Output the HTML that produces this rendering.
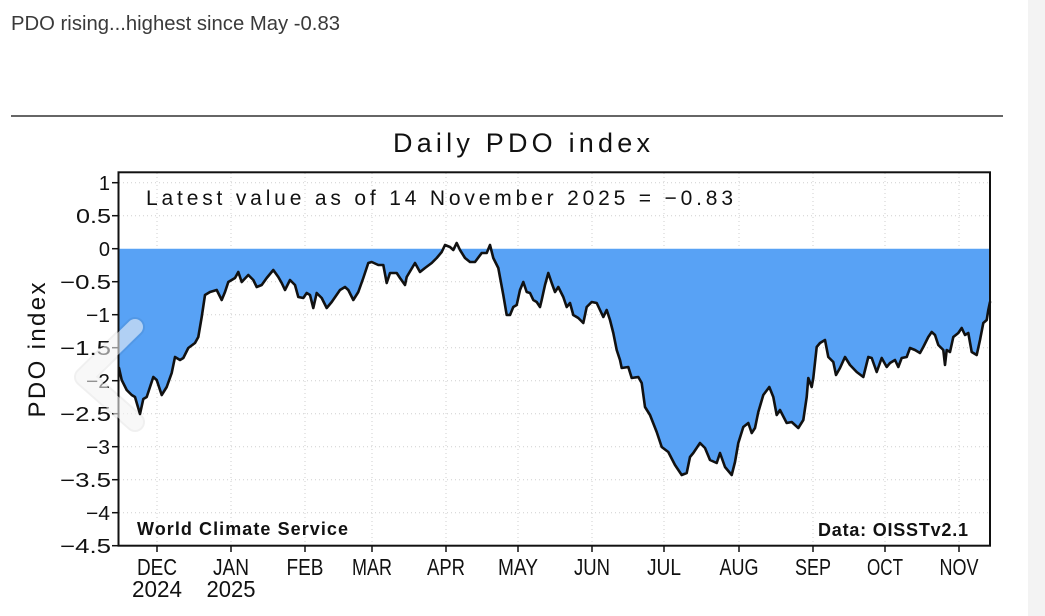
<!DOCTYPE html>
<html><head><meta charset="utf-8"><style>
html,body{margin:0;padding:0;background:#fff;}
svg{display:block;}
</style></head><body>
<svg width="1045" height="616" viewBox="0 0 1045 616" xmlns="http://www.w3.org/2000/svg" font-family="Liberation Sans, DejaVu Sans, sans-serif">
<rect x="0" y="0" width="1045" height="616" fill="#fff"/>
<rect x="1028" y="0" width="17" height="616" fill="#f3f3f3"/>
<text x="11" y="30" font-size="20" fill="#3a3a3a" textLength="329" lengthAdjust="spacingAndGlyphs">PDO rising...highest since May -0.83</text>
<line x1="11" y1="116" x2="1003" y2="116" stroke="#333" stroke-width="1.5"/>

<!-- grid -->
<g stroke="#cfcfcf" stroke-width="1" stroke-dasharray="1 3">
<line x1="119" y1="182.7" x2="990" y2="182.7"/>
<line x1="119" y1="215.7" x2="990" y2="215.7"/>
<line x1="119" y1="281.7" x2="990" y2="281.7"/>
<line x1="119" y1="314.7" x2="990" y2="314.7"/>
<line x1="119" y1="347.7" x2="990" y2="347.7"/>
<line x1="119" y1="380.7" x2="990" y2="380.7"/>
<line x1="119" y1="413.7" x2="990" y2="413.7"/>
<line x1="119" y1="446.7" x2="990" y2="446.7"/>
<line x1="119" y1="479.7" x2="990" y2="479.7"/>
<line x1="119" y1="512.7" x2="990" y2="512.7"/>
<line x1="157" y1="173" x2="157" y2="545"/>
<line x1="231" y1="173" x2="231" y2="545"/>
<line x1="305" y1="173" x2="305" y2="545"/>
<line x1="372" y1="173" x2="372" y2="545"/>
<line x1="446" y1="173" x2="446" y2="545"/>
<line x1="518" y1="173" x2="518" y2="545"/>
<line x1="592" y1="173" x2="592" y2="545"/>
<line x1="664" y1="173" x2="664" y2="545"/>
<line x1="739" y1="173" x2="739" y2="545"/>
<line x1="813" y1="173" x2="813" y2="545"/>
<line x1="885" y1="173" x2="885" y2="545"/>
<line x1="959" y1="173" x2="959" y2="545"/>
</g>

<!-- fill -->
<polygon fill="#58a2f5" points="119,248.7 119,368 121.7,380 126.7,390 131.7,395 135,397 140,414 143.3,399 146.7,397 153.3,377 156.7,380 161.7,395 166.7,387 171.7,373 175,357 180,360 183.3,358 188.3,348 195,343 198.3,337 201.7,317 205,295 210,292 216.7,290 221.7,300 225,292 228.3,282 235,278 238.3,272 241.7,282 248.3,275 253.3,280 256.7,287 261.7,285 266.7,278 273.3,270 278.3,277 281.7,283 285,290 290,280 295,285 298.3,297 303.3,298 306.7,293 310,295 313.3,308 316.7,293 321.7,298 326.7,308 331.7,302 340,290 345,287 348.3,290 353.3,300 358.3,292 363.3,278 368.3,263 371.7,262 378.3,265 383.3,265 386.7,283 390,273 396.7,273 400,278 405,285 406.7,277 415,263 420,272 425,268 431.7,263 436.7,258 441.7,252 445,248.7 450,248.7 453.3,250 456.7,248.7 460,250 465,258 470,262 475,262 481.7,253 486.7,253 490,248.7 493.3,258 498.3,268 503.3,295 506.7,315 510,315 513.3,307 516.7,305 520,290 523.3,282 526.7,292 530,293 533.3,300 536.7,302 540,307 541.7,300 545,285 548.3,273 551.7,283 555,292 558.3,287 563.3,297 566.7,307 570,303 573.3,315 578.3,318 583.3,323 586.7,307 591.7,302 596.7,303 600,310 603.3,317 606.7,310 610,320 613.3,333 616.7,350 620,360 621.7,368 628.3,367 631.7,378 638.3,377 641.7,383 645,407 650,415 656.7,432 661.7,447 668.3,452 675,465 681.7,475 686.7,473 690,457 693.3,453 700,443 705,448 710,460 716.7,463 720,453 725,467 731.7,475 735,462 738.3,443 743.3,427 748.3,423 751.7,433 755,428 758.3,412 763.3,395 769.3,387 773.3,397 776.7,415 780,410 786.7,423 791.7,422 798.3,428 803.3,420 806.7,397 808.3,378 811.7,387 813.3,378 816.7,347 820,343 825,340 828.3,357 833.3,362 836,375 840,368 845,357 850,365 856.7,372 863.3,377 868.3,357 871.7,358 876.7,372 881.7,358 886.7,367 890,363 895,360 898.3,367 901.7,358 906.7,357 910,348 915,350 920,353 923.3,347 928.3,337 931.7,332 935,335 938.3,345 943.3,350 945,365 946.7,350 950,352 953.3,337 958.3,333 961.7,328 965,335 968.3,333 971.7,352 976.7,355 980,340 983.3,323 986.7,320 988.3,310 990,302 990,248.7"/>

<!-- line -->
<polyline fill="none" stroke="#111" stroke-width="2.6" stroke-linejoin="round" stroke-linecap="round" points="119,368 121.7,380 126.7,390 131.7,395 135,397 140,414 143.3,399 146.7,397 153.3,377 156.7,380 161.7,395 166.7,387 171.7,373 175,357 180,360 183.3,358 188.3,348 195,343 198.3,337 201.7,317 205,295 210,292 216.7,290 221.7,300 225,292 228.3,282 235,278 238.3,272 241.7,282 248.3,275 253.3,280 256.7,287 261.7,285 266.7,278 273.3,270 278.3,277 281.7,283 285,290 290,280 295,285 298.3,297 303.3,298 306.7,293 310,295 313.3,308 316.7,293 321.7,298 326.7,308 331.7,302 340,290 345,287 348.3,290 353.3,300 358.3,292 363.3,278 368.3,263 371.7,262 378.3,265 383.3,265 386.7,283 390,273 396.7,273 400,278 405,285 406.7,277 415,263 420,272 425,268 431.7,263 436.7,258 441.7,252 445,245 450,247 453.3,250 456.7,243 460,250 465,258 470,262 475,262 481.7,253 486.7,253 490,245 493.3,258 498.3,268 503.3,295 506.7,315 510,315 513.3,307 516.7,305 520,290 523.3,282 526.7,292 530,293 533.3,300 536.7,302 540,307 541.7,300 545,285 548.3,273 551.7,283 555,292 558.3,287 563.3,297 566.7,307 570,303 573.3,315 578.3,318 583.3,323 586.7,307 591.7,302 596.7,303 600,310 603.3,317 606.7,310 610,320 613.3,333 616.7,350 620,360 621.7,368 628.3,367 631.7,378 638.3,377 641.7,383 645,407 650,415 656.7,432 661.7,447 668.3,452 675,465 681.7,475 686.7,473 690,457 693.3,453 700,443 705,448 710,460 716.7,463 720,453 725,467 731.7,475 735,462 738.3,443 743.3,427 748.3,423 751.7,433 755,428 758.3,412 763.3,395 769.3,387 773.3,397 776.7,415 780,410 786.7,423 791.7,422 798.3,428 803.3,420 806.7,397 808.3,378 811.7,387 813.3,378 816.7,347 820,343 825,340 828.3,357 833.3,362 836,375 840,368 845,357 850,365 856.7,372 863.3,377 868.3,357 871.7,358 876.7,372 881.7,358 886.7,367 890,363 895,360 898.3,367 901.7,358 906.7,357 910,348 915,350 920,353 923.3,347 928.3,337 931.7,332 935,335 938.3,345 943.3,350 945,365 946.7,350 950,352 953.3,337 958.3,333 961.7,328 965,335 968.3,333 971.7,352 976.7,355 980,340 983.3,323 986.7,320 988.3,310 990,302"/>

<!-- frame -->
<rect x="118.5" y="172.3" width="871.5" height="373.4" fill="none" stroke="#111" stroke-width="2"/>

<!-- ticks -->
<g stroke="#111" stroke-width="1.5">
<line x1="112" y1="182.7" x2="118.5" y2="182.7"/>
<line x1="112" y1="215.7" x2="118.5" y2="215.7"/>
<line x1="112" y1="248.7" x2="118.5" y2="248.7"/>
<line x1="112" y1="281.7" x2="118.5" y2="281.7"/>
<line x1="112" y1="314.7" x2="118.5" y2="314.7"/>
<line x1="112" y1="347.7" x2="118.5" y2="347.7"/>
<line x1="112" y1="380.7" x2="118.5" y2="380.7"/>
<line x1="112" y1="413.7" x2="118.5" y2="413.7"/>
<line x1="112" y1="446.7" x2="118.5" y2="446.7"/>
<line x1="112" y1="479.7" x2="118.5" y2="479.7"/>
<line x1="112" y1="512.7" x2="118.5" y2="512.7"/>
<line x1="112" y1="545.7" x2="118.5" y2="545.7"/>
<line x1="157" y1="545.7" x2="157" y2="552"/>
<line x1="231" y1="545.7" x2="231" y2="552"/>
<line x1="305" y1="545.7" x2="305" y2="552"/>
<line x1="372" y1="545.7" x2="372" y2="552"/>
<line x1="446" y1="545.7" x2="446" y2="552"/>
<line x1="518" y1="545.7" x2="518" y2="552"/>
<line x1="592" y1="545.7" x2="592" y2="552"/>
<line x1="664" y1="545.7" x2="664" y2="552"/>
<line x1="739" y1="545.7" x2="739" y2="552"/>
<line x1="813" y1="545.7" x2="813" y2="552"/>
<line x1="885" y1="545.7" x2="885" y2="552"/>
<line x1="959" y1="545.7" x2="959" y2="552"/>
</g>

<!-- y labels -->
<g font-size="20" fill="#111" text-anchor="end">
<text x="110" y="190">1</text>
<text x="111" y="223" textLength="35" lengthAdjust="spacingAndGlyphs">0.5</text>
<text x="110" y="256">0</text>
<text x="111" y="289" textLength="51" lengthAdjust="spacingAndGlyphs">−0.5</text>
<text x="110" y="322" textLength="24" lengthAdjust="spacingAndGlyphs">−1</text>
<text x="111" y="355" textLength="51" lengthAdjust="spacingAndGlyphs">−1.5</text>
<text x="110" y="388" textLength="24" lengthAdjust="spacingAndGlyphs">−2</text>
<text x="111" y="421" textLength="51" lengthAdjust="spacingAndGlyphs">−2.5</text>
<text x="110" y="454" textLength="24" lengthAdjust="spacingAndGlyphs">−3</text>
<text x="111" y="487" textLength="51" lengthAdjust="spacingAndGlyphs">−3.5</text>
<text x="110" y="520" textLength="24" lengthAdjust="spacingAndGlyphs">−4</text>
<text x="111" y="553" textLength="51" lengthAdjust="spacingAndGlyphs">−4.5</text>
</g>

<!-- x labels -->
<g font-size="23" fill="#111" text-anchor="middle">
<text x="157" y="575" textLength="40" lengthAdjust="spacingAndGlyphs">DEC</text>
<text x="231" y="575" textLength="36" lengthAdjust="spacingAndGlyphs">JAN</text>
<text x="305" y="575" textLength="37" lengthAdjust="spacingAndGlyphs">FEB</text>
<text x="372" y="575" textLength="40" lengthAdjust="spacingAndGlyphs">MAR</text>
<text x="446" y="575" textLength="38" lengthAdjust="spacingAndGlyphs">APR</text>
<text x="518" y="575" textLength="40" lengthAdjust="spacingAndGlyphs">MAY</text>
<text x="592" y="575" textLength="36" lengthAdjust="spacingAndGlyphs">JUN</text>
<text x="664" y="575" textLength="34" lengthAdjust="spacingAndGlyphs">JUL</text>
<text x="739" y="575" textLength="39" lengthAdjust="spacingAndGlyphs">AUG</text>
<text x="813" y="575" textLength="36" lengthAdjust="spacingAndGlyphs">SEP</text>
<text x="885" y="575" textLength="36" lengthAdjust="spacingAndGlyphs">OCT</text>
<text x="959" y="575" textLength="39" lengthAdjust="spacingAndGlyphs">NOV</text>
<text x="157" y="597" textLength="50" lengthAdjust="spacingAndGlyphs">2024</text>
<text x="231" y="597" textLength="49" lengthAdjust="spacingAndGlyphs">2025</text>
</g>

<!-- titles -->
<text x="393" y="152" font-size="27" fill="#111" textLength="257" lengthAdjust="spacing">Daily PDO index</text>
<text x="146" y="205" font-size="21" fill="#111" textLength="587" lengthAdjust="spacing">Latest value as of 14 November 2025 = −0.83</text>
<text x="137" y="535" font-size="18" font-weight="bold" fill="#111" textLength="211" lengthAdjust="spacing">World Climate Service</text>
<text x="818" y="536" font-size="18" font-weight="bold" fill="#111" textLength="150" lengthAdjust="spacing">Data: OISSTv2.1</text>
<text transform="translate(45,350) rotate(-90)" x="0" y="0" font-size="24" fill="#111" text-anchor="middle" textLength="135" lengthAdjust="spacing">PDO index</text>

<!-- carousel chevron overlay -->
<polyline points="135,327 84,377 135,422" fill="none" stroke="rgba(0,0,0,0.06)" stroke-width="20" stroke-linecap="round" stroke-linejoin="round"/>
<polyline points="135,327 84,377 135,422" fill="none" stroke="rgba(255,255,255,0.55)" stroke-width="16" stroke-linecap="round" stroke-linejoin="round"/>
</svg>
</body></html>
